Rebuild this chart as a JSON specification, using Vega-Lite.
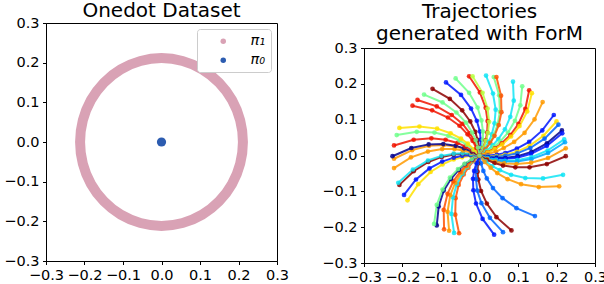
{
"$schema":"https://vega.github.io/schema/vega-lite/v6.json",
"padding":{"left":3,"top":0,"right":0,"bottom":0},
"spacing":31,
"config":{
"view":{"stroke":"black","strokeWidth":1},
"axis":{"domainColor":"black","tickColor":"black","labelColor":"black","labelFont":"DejaVu Sans","labelFontSize":14.5,"tickSize":3.5,"labelPadding":3.5,"grid":false,"labelOverlap":false,"labelFlush":false,"values":[-0.3,-0.2,-0.1,0,0.1,0.2,0.3],"format":".1f","domainWidth":1,"tickWidth":1},
"title":{"font":"DejaVu Sans","fontSize":20,"fontWeight":"normal","color":"black","offset":-6,"lineHeight":22,"frame":"group","anchor":"middle"}
},
"resolve":{"scale":{"color":"independent","x":"independent","y":"independent"},"legend":{"color":"independent"}},
"datasets":{
"ring":[{"i":0,"x":0.2115,"y":0},{"i":1,"x":0.2043,"y":0.0547},{"i":2,"x":0.1832,"y":0.1058},{"i":3,"x":0.1496,"y":0.1496},{"i":4,"x":0.1058,"y":0.1832},{"i":5,"x":0.0547,"y":0.2043},{"i":6,"x":0,"y":0.2115},{"i":7,"x":-0.0547,"y":0.2043},{"i":8,"x":-0.1058,"y":0.1832},{"i":9,"x":-0.1496,"y":0.1496},{"i":10,"x":-0.1832,"y":0.1058},{"i":11,"x":-0.2043,"y":0.0547},{"i":12,"x":-0.2115,"y":0},{"i":13,"x":-0.2043,"y":-0.0547},{"i":14,"x":-0.1832,"y":-0.1058},{"i":15,"x":-0.1496,"y":-0.1496},{"i":16,"x":-0.1058,"y":-0.1832},{"i":17,"x":-0.0547,"y":-0.2043},{"i":18,"x":0,"y":-0.2115},{"i":19,"x":0.0547,"y":-0.2043},{"i":20,"x":0.1058,"y":-0.1832},{"i":21,"x":0.1496,"y":-0.1496},{"i":22,"x":0.1832,"y":-0.1058},{"i":23,"x":0.2043,"y":-0.0547}],
"src":[{"x":0,"y":0,"s":"π₀"}],
"empty":[],
"traj":[
{"t":1,"i":0,"x":0,"y":0,"k":11},{"t":1,"i":1,"x":-0.001,"y":0.022,"k":11},{"t":1,"i":2,"x":-0.005,"y":0.044,"k":11},{"t":1,"i":3,"x":-0.011,"y":0.066,"k":11},{"t":1,"i":4,"x":-0.024,"y":0.095,"k":11},{"t":1,"i":5,"x":-0.045,"y":0.126,"k":11},{"t":1,"i":6,"x":-0.077,"y":0.158,"k":11},{"t":1,"i":7,"x":-0.122,"y":0.186,"k":11},
{"t":2,"i":0,"x":0,"y":0,"k":1},{"t":2,"i":1,"x":0.003,"y":0.022,"k":1},{"t":2,"i":2,"x":0.003,"y":0.044,"k":1},{"t":2,"i":3,"x":0.001,"y":0.067,"k":1},{"t":2,"i":4,"x":-0.007,"y":0.097,"k":1},{"t":2,"i":5,"x":-0.022,"y":0.131,"k":1},{"t":2,"i":6,"x":-0.048,"y":0.169,"k":1},{"t":2,"i":7,"x":-0.087,"y":0.204,"k":1},
{"t":3,"i":0,"x":0,"y":0,"k":5},{"t":3,"i":1,"x":0.006,"y":0.022,"k":5},{"t":3,"i":2,"x":0.009,"y":0.044,"k":5},{"t":3,"i":3,"x":0.009,"y":0.067,"k":5},{"t":3,"i":4,"x":0.005,"y":0.098,"k":5},{"t":3,"i":5,"x":-0.005,"y":0.134,"k":5},{"t":3,"i":6,"x":-0.027,"y":0.175,"k":5},{"t":3,"i":7,"x":-0.062,"y":0.215,"k":5},
{"t":4,"i":0,"x":0,"y":0,"k":10},{"t":4,"i":1,"x":0.009,"y":0.020,"k":10},{"t":4,"i":2,"x":0.016,"y":0.042,"k":10},{"t":4,"i":3,"x":0.020,"y":0.064,"k":10},{"t":4,"i":4,"x":0.021,"y":0.096,"k":10},{"t":4,"i":5,"x":0.016,"y":0.133,"k":10},{"t":4,"i":6,"x":0.001,"y":0.176,"k":10},{"t":4,"i":7,"x":-0.027,"y":0.221,"k":10},
{"t":5,"i":0,"x":0,"y":0,"k":6},{"t":5,"i":1,"x":0.010,"y":0.020,"k":6},{"t":5,"i":2,"x":0.017,"y":0.041,"k":6},{"t":5,"i":3,"x":0.022,"y":0.063,"k":6},{"t":5,"i":4,"x":0.025,"y":0.094,"k":6},{"t":5,"i":5,"x":0.021,"y":0.131,"k":6},{"t":5,"i":6,"x":0.008,"y":0.175,"k":6},{"t":5,"i":7,"x":-0.018,"y":0.221,"k":6},
{"t":6,"i":0,"x":0,"y":0,"k":4},{"t":6,"i":1,"x":0.013,"y":0.018,"k":4},{"t":6,"i":2,"x":0.024,"y":0.038,"k":4},{"t":6,"i":3,"x":0.032,"y":0.059,"k":4},{"t":6,"i":4,"x":0.039,"y":0.090,"k":4},{"t":6,"i":5,"x":0.042,"y":0.128,"k":4},{"t":6,"i":6,"x":0.035,"y":0.173,"k":4},{"t":6,"i":7,"x":0.017,"y":0.223,"k":4},
{"t":7,"i":0,"x":0,"y":0,"k":5},{"t":7,"i":1,"x":0.014,"y":0.017,"k":5},{"t":7,"i":2,"x":0.027,"y":0.035,"k":5},{"t":7,"i":3,"x":0.037,"y":0.056,"k":5},{"t":7,"i":4,"x":0.047,"y":0.086,"k":5},{"t":7,"i":5,"x":0.053,"y":0.122,"k":5},{"t":7,"i":6,"x":0.051,"y":0.168,"k":5},{"t":7,"i":7,"x":0.037,"y":0.219,"k":5},
{"t":8,"i":0,"x":0,"y":0,"k":9},{"t":8,"i":1,"x":0.015,"y":0.017,"k":9},{"t":8,"i":2,"x":0.028,"y":0.035,"k":9},{"t":8,"i":3,"x":0.039,"y":0.055,"k":9},{"t":8,"i":4,"x":0.050,"y":0.085,"k":9},{"t":8,"i":5,"x":0.057,"y":0.121,"k":9},{"t":8,"i":6,"x":0.056,"y":0.167,"k":9},{"t":8,"i":7,"x":0.044,"y":0.219,"k":9},
{"t":9,"i":0,"x":0,"y":0,"k":4},{"t":9,"i":1,"x":0.018,"y":0.013,"k":4},{"t":9,"i":2,"x":0.034,"y":0.028,"k":4},{"t":9,"i":3,"x":0.049,"y":0.046,"k":4},{"t":9,"i":4,"x":0.066,"y":0.073,"k":4},{"t":9,"i":5,"x":0.080,"y":0.108,"k":4},{"t":9,"i":6,"x":0.089,"y":0.153,"k":4},{"t":9,"i":7,"x":0.087,"y":0.206,"k":4},
{"t":10,"i":0,"x":0,"y":0,"k":5},{"t":10,"i":1,"x":0.019,"y":0.011,"k":5},{"t":10,"i":2,"x":0.037,"y":0.024,"k":5},{"t":10,"i":3,"x":0.054,"y":0.039,"k":5},{"t":10,"i":4,"x":0.074,"y":0.064,"k":5},{"t":10,"i":5,"x":0.092,"y":0.097,"k":5},{"t":10,"i":6,"x":0.106,"y":0.140,"k":5},{"t":10,"i":7,"x":0.111,"y":0.193,"k":5},
{"t":11,"i":0,"x":0,"y":0,"k":10},{"t":11,"i":1,"x":0.020,"y":0.009,"k":10},{"t":11,"i":2,"x":0.040,"y":0.020,"k":10},{"t":11,"i":3,"x":0.058,"y":0.034,"k":10},{"t":11,"i":4,"x":0.080,"y":0.057,"k":10},{"t":11,"i":5,"x":0.101,"y":0.088,"k":10},{"t":11,"i":6,"x":0.119,"y":0.130,"k":10},{"t":11,"i":7,"x":0.129,"y":0.182,"k":10},
{"t":12,"i":0,"x":0,"y":0,"k":7},{"t":12,"i":1,"x":0.021,"y":0.008,"k":7},{"t":12,"i":2,"x":0.040,"y":0.018,"k":7},{"t":12,"i":3,"x":0.059,"y":0.031,"k":7},{"t":12,"i":4,"x":0.082,"y":0.053,"k":7},{"t":12,"i":5,"x":0.104,"y":0.082,"k":7},{"t":12,"i":6,"x":0.124,"y":0.123,"k":7},{"t":12,"i":7,"x":0.136,"y":0.174,"k":7},
{"t":13,"i":0,"x":0,"y":0,"k":8},{"t":13,"i":1,"x":0.022,"y":0.004,"k":8},{"t":13,"i":2,"x":0.043,"y":0.011,"k":8},{"t":13,"i":3,"x":0.063,"y":0.021,"k":8},{"t":13,"i":4,"x":0.090,"y":0.038,"k":8},{"t":13,"i":5,"x":0.117,"y":0.063,"k":8},{"t":13,"i":6,"x":0.143,"y":0.101,"k":8},{"t":13,"i":7,"x":0.164,"y":0.149,"k":8},
{"t":14,"i":0,"x":0,"y":0,"k":1},{"t":14,"i":1,"x":0.022,"y":0.000,"k":1},{"t":14,"i":2,"x":0.045,"y":0.002,"k":1},{"t":14,"i":3,"x":0.067,"y":0.007,"k":1},{"t":14,"i":4,"x":0.097,"y":0.019,"k":1},{"t":14,"i":5,"x":0.129,"y":0.038,"k":1},{"t":14,"i":6,"x":0.163,"y":0.070,"k":1},{"t":14,"i":7,"x":0.193,"y":0.113,"k":1},
{"t":15,"i":0,"x":0,"y":0,"k":7},{"t":15,"i":1,"x":0.022,"y":-0.002,"k":7},{"t":15,"i":2,"x":0.044,"y":-0.002,"k":7},{"t":15,"i":3,"x":0.066,"y":0.002,"k":7},{"t":15,"i":4,"x":0.097,"y":0.010,"k":7},{"t":15,"i":5,"x":0.130,"y":0.027,"k":7},{"t":15,"i":6,"x":0.166,"y":0.055,"k":7},{"t":15,"i":7,"x":0.200,"y":0.095,"k":7},
{"t":16,"i":0,"x":0,"y":0,"k":2},{"t":16,"i":1,"x":0.022,"y":-0.003,"k":2},{"t":16,"i":2,"x":0.044,"y":-0.004,"k":2},{"t":16,"i":3,"x":0.067,"y":-0.001,"k":2},{"t":16,"i":4,"x":0.098,"y":0.006,"k":2},{"t":16,"i":5,"x":0.132,"y":0.021,"k":2},{"t":16,"i":6,"x":0.169,"y":0.047,"k":2},{"t":16,"i":7,"x":0.205,"y":0.086,"k":2},
{"t":17,"i":0,"x":0,"y":0,"k":0},{"t":17,"i":1,"x":0.022,"y":-0.005,"k":0},{"t":17,"i":2,"x":0.044,"y":-0.007,"k":0},{"t":17,"i":3,"x":0.067,"y":-0.007,"k":0},{"t":17,"i":4,"x":0.099,"y":-0.002,"k":0},{"t":17,"i":5,"x":0.135,"y":0.010,"k":0},{"t":17,"i":6,"x":0.175,"y":0.034,"k":0},{"t":17,"i":7,"x":0.214,"y":0.070,"k":0},
{"t":18,"i":0,"x":0,"y":0,"k":1},{"t":18,"i":1,"x":0.022,"y":-0.006,"k":1},{"t":18,"i":2,"x":0.044,"y":-0.009,"k":1},{"t":18,"i":3,"x":0.067,"y":-0.009,"k":1},{"t":18,"i":4,"x":0.098,"y":-0.006,"k":1},{"t":18,"i":5,"x":0.134,"y":0.005,"k":1},{"t":18,"i":6,"x":0.175,"y":0.027,"k":1},{"t":18,"i":7,"x":0.215,"y":0.062,"k":1},
{"t":19,"i":0,"x":0,"y":0,"k":4},{"t":19,"i":1,"x":0.021,"y":-0.007,"k":4},{"t":19,"i":2,"x":0.043,"y":-0.012,"k":4},{"t":19,"i":3,"x":0.066,"y":-0.015,"k":4},{"t":19,"i":4,"x":0.098,"y":-0.013,"k":4},{"t":19,"i":5,"x":0.135,"y":-0.005,"k":4},{"t":19,"i":6,"x":0.177,"y":0.014,"k":4},{"t":19,"i":7,"x":0.220,"y":0.045,"k":4},
{"t":20,"i":0,"x":0,"y":0,"k":3},{"t":20,"i":1,"x":0.021,"y":-0.008,"k":3},{"t":20,"i":2,"x":0.043,"y":-0.014,"k":3},{"t":20,"i":3,"x":0.065,"y":-0.017,"k":3},{"t":20,"i":4,"x":0.098,"y":-0.017,"k":3},{"t":20,"i":5,"x":0.135,"y":-0.010,"k":3},{"t":20,"i":6,"x":0.178,"y":0.007,"k":3},{"t":20,"i":7,"x":0.222,"y":0.037,"k":3},
{"t":21,"i":0,"x":0,"y":0,"k":8},{"t":21,"i":1,"x":0.020,"y":-0.010,"k":8},{"t":21,"i":2,"x":0.041,"y":-0.017,"k":8},{"t":21,"i":3,"x":0.064,"y":-0.022,"k":8},{"t":21,"i":4,"x":0.096,"y":-0.024,"k":8},{"t":21,"i":5,"x":0.134,"y":-0.020,"k":8},{"t":21,"i":6,"x":0.178,"y":-0.007,"k":8},{"t":21,"i":7,"x":0.224,"y":0.020,"k":8},
{"t":22,"i":0,"x":0,"y":0,"k":11},{"t":22,"i":1,"x":0.019,"y":-0.012,"k":11},{"t":22,"i":2,"x":0.039,"y":-0.021,"k":11},{"t":22,"i":3,"x":0.061,"y":-0.028,"k":11},{"t":22,"i":4,"x":0.093,"y":-0.033,"k":11},{"t":22,"i":5,"x":0.130,"y":-0.033,"k":11},{"t":22,"i":6,"x":0.175,"y":-0.024,"k":11},{"t":22,"i":7,"x":0.224,"y":-0.002,"k":11},
{"t":23,"i":0,"x":0,"y":0,"k":4},{"t":23,"i":1,"x":0.016,"y":-0.016,"k":4},{"t":23,"i":2,"x":0.033,"y":-0.030,"k":4},{"t":23,"i":3,"x":0.053,"y":-0.041,"k":4},{"t":23,"i":4,"x":0.082,"y":-0.054,"k":4},{"t":23,"i":5,"x":0.119,"y":-0.063,"k":4},{"t":23,"i":6,"x":0.165,"y":-0.064,"k":4},{"t":23,"i":7,"x":0.217,"y":-0.054,"k":4},
{"t":24,"i":0,"x":0,"y":0,"k":8},{"t":24,"i":1,"x":0.013,"y":-0.018,"k":8},{"t":24,"i":2,"x":0.029,"y":-0.034,"k":8},{"t":24,"i":3,"x":0.046,"y":-0.049,"k":8},{"t":24,"i":4,"x":0.073,"y":-0.066,"k":8},{"t":24,"i":5,"x":0.108,"y":-0.080,"k":8},{"t":24,"i":6,"x":0.154,"y":-0.088,"k":8},{"t":24,"i":7,"x":0.207,"y":-0.086,"k":8},
{"t":25,"i":0,"x":0,"y":0,"k":2},{"t":25,"i":1,"x":0.004,"y":-0.022,"k":2},{"t":25,"i":2,"x":0.010,"y":-0.043,"k":2},{"t":25,"i":3,"x":0.019,"y":-0.064,"k":2},{"t":25,"i":4,"x":0.035,"y":-0.091,"k":2},{"t":25,"i":5,"x":0.060,"y":-0.119,"k":2},{"t":25,"i":6,"x":0.096,"y":-0.147,"k":2},{"t":25,"i":7,"x":0.144,"y":-0.169,"k":2},
{"t":26,"i":0,"x":0,"y":0,"k":11},{"t":26,"i":1,"x":-0.004,"y":-0.022,"k":11},{"t":26,"i":2,"x":-0.005,"y":-0.045,"k":11},{"t":26,"i":3,"x":-0.003,"y":-0.067,"k":11},{"t":26,"i":4,"x":0.004,"y":-0.099,"k":11},{"t":26,"i":5,"x":0.019,"y":-0.134,"k":11},{"t":26,"i":6,"x":0.044,"y":-0.172,"k":11},{"t":26,"i":7,"x":0.083,"y":-0.209,"k":11},
{"t":27,"i":0,"x":0,"y":0,"k":2},{"t":27,"i":1,"x":-0.006,"y":-0.022,"k":2},{"t":27,"i":2,"x":-0.009,"y":-0.044,"k":2},{"t":27,"i":3,"x":-0.009,"y":-0.066,"k":2},{"t":27,"i":4,"x":-0.006,"y":-0.098,"k":2},{"t":27,"i":5,"x":0.005,"y":-0.133,"k":2},{"t":27,"i":6,"x":0.027,"y":-0.174,"k":2},{"t":27,"i":7,"x":0.061,"y":-0.214,"k":2},
{"t":28,"i":0,"x":0,"y":0,"k":1},{"t":28,"i":1,"x":-0.008,"y":-0.021,"k":1},{"t":28,"i":2,"x":-0.014,"y":-0.043,"k":1},{"t":28,"i":3,"x":-0.017,"y":-0.065,"k":1},{"t":28,"i":4,"x":-0.016,"y":-0.097,"k":1},{"t":28,"i":5,"x":-0.009,"y":-0.134,"k":1},{"t":28,"i":6,"x":0.008,"y":-0.177,"k":1},{"t":28,"i":7,"x":0.038,"y":-0.221,"k":1},
{"t":29,"i":0,"x":0,"y":0,"k":9},{"t":29,"i":1,"x":-0.016,"y":-0.016,"k":9},{"t":29,"i":2,"x":-0.029,"y":-0.034,"k":9},{"t":29,"i":3,"x":-0.041,"y":-0.053,"k":9},{"t":29,"i":4,"x":-0.054,"y":-0.082,"k":9},{"t":29,"i":5,"x":-0.062,"y":-0.119,"k":9},{"t":29,"i":6,"x":-0.063,"y":-0.165,"k":9},{"t":29,"i":7,"x":-0.053,"y":-0.217,"k":9},
{"t":30,"i":0,"x":0,"y":0,"k":4},{"t":30,"i":1,"x":-0.017,"y":-0.015,"k":4},{"t":30,"i":2,"x":-0.032,"y":-0.032,"k":4},{"t":30,"i":3,"x":-0.044,"y":-0.051,"k":4},{"t":30,"i":4,"x":-0.059,"y":-0.080,"k":4},{"t":30,"i":5,"x":-0.069,"y":-0.117,"k":4},{"t":30,"i":6,"x":-0.073,"y":-0.163,"k":4},{"t":30,"i":7,"x":-0.066,"y":-0.216,"k":4},
{"t":31,"i":0,"x":0,"y":0,"k":8},{"t":31,"i":1,"x":-0.018,"y":-0.014,"k":8},{"t":31,"i":2,"x":-0.033,"y":-0.030,"k":8},{"t":31,"i":3,"x":-0.047,"y":-0.048,"k":8},{"t":31,"i":4,"x":-0.063,"y":-0.076,"k":8},{"t":31,"i":5,"x":-0.076,"y":-0.111,"k":8},{"t":31,"i":6,"x":-0.083,"y":-0.157,"k":8},{"t":31,"i":7,"x":-0.079,"y":-0.210,"k":8},
{"t":32,"i":0,"x":0,"y":0,"k":9},{"t":32,"i":1,"x":-0.018,"y":-0.013,"k":9},{"t":32,"i":2,"x":-0.035,"y":-0.028,"k":9},{"t":32,"i":3,"x":-0.050,"y":-0.045,"k":9},{"t":32,"i":4,"x":-0.068,"y":-0.072,"k":9},{"t":32,"i":5,"x":-0.083,"y":-0.107,"k":9},{"t":32,"i":6,"x":-0.093,"y":-0.152,"k":9},{"t":32,"i":7,"x":-0.092,"y":-0.206,"k":9},
{"t":33,"i":0,"x":0,"y":0,"k":0},{"t":33,"i":1,"x":-0.019,"y":-0.011,"k":0},{"t":33,"i":2,"x":-0.038,"y":-0.024,"k":0},{"t":33,"i":3,"x":-0.054,"y":-0.040,"k":0},{"t":33,"i":4,"x":-0.074,"y":-0.065,"k":0},{"t":33,"i":5,"x":-0.093,"y":-0.098,"k":0},{"t":33,"i":6,"x":-0.106,"y":-0.142,"k":0},{"t":33,"i":7,"x":-0.111,"y":-0.195,"k":0},
{"t":34,"i":0,"x":0,"y":0,"k":5},{"t":34,"i":1,"x":-0.020,"y":-0.010,"k":5},{"t":34,"i":2,"x":-0.039,"y":-0.023,"k":5},{"t":34,"i":3,"x":-0.056,"y":-0.038,"k":5},{"t":34,"i":4,"x":-0.077,"y":-0.062,"k":5},{"t":34,"i":5,"x":-0.096,"y":-0.095,"k":5},{"t":34,"i":6,"x":-0.111,"y":-0.138,"k":5},{"t":34,"i":7,"x":-0.118,"y":-0.191,"k":5},
{"t":35,"i":0,"x":0,"y":0,"k":7},{"t":35,"i":1,"x":-0.022,"y":-0.001,"k":7},{"t":35,"i":2,"x":-0.045,"y":-0.005,"k":7},{"t":35,"i":3,"x":-0.067,"y":-0.011,"k":7},{"t":35,"i":4,"x":-0.096,"y":-0.025,"k":7},{"t":35,"i":5,"x":-0.127,"y":-0.046,"k":7},{"t":35,"i":6,"x":-0.159,"y":-0.080,"k":7},{"t":35,"i":7,"x":-0.187,"y":-0.125,"k":7},
{"t":36,"i":0,"x":0,"y":0,"k":1},{"t":36,"i":1,"x":-0.023,"y":0.001,"k":1},{"t":36,"i":2,"x":-0.045,"y":-0.001,"k":1},{"t":36,"i":3,"x":-0.067,"y":-0.006,"k":1},{"t":36,"i":4,"x":-0.097,"y":-0.017,"k":1},{"t":36,"i":5,"x":-0.130,"y":-0.036,"k":1},{"t":36,"i":6,"x":-0.165,"y":-0.067,"k":1},{"t":36,"i":7,"x":-0.196,"y":-0.110,"k":1},
{"t":37,"i":0,"x":0,"y":0,"k":11},{"t":37,"i":1,"x":-0.022,"y":0.004,"k":11},{"t":37,"i":2,"x":-0.044,"y":0.005,"k":11},{"t":37,"i":3,"x":-0.067,"y":0.003,"k":11},{"t":37,"i":4,"x":-0.098,"y":-0.004,"k":11},{"t":37,"i":5,"x":-0.133,"y":-0.018,"k":11},{"t":37,"i":6,"x":-0.171,"y":-0.044,"k":11},{"t":37,"i":7,"x":-0.208,"y":-0.082,"k":11},
{"t":38,"i":0,"x":0,"y":0,"k":4},{"t":38,"i":1,"x":-0.022,"y":0.004,"k":4},{"t":38,"i":2,"x":-0.044,"y":0.006,"k":4},{"t":38,"i":3,"x":-0.067,"y":0.005,"k":4},{"t":38,"i":4,"x":-0.099,"y":-0.001,"k":4},{"t":38,"i":5,"x":-0.134,"y":-0.014,"k":4},{"t":38,"i":6,"x":-0.173,"y":-0.039,"k":4},{"t":38,"i":7,"x":-0.211,"y":-0.076,"k":4},
{"t":39,"i":0,"x":0,"y":0,"k":8},{"t":39,"i":1,"x":-0.021,"y":0.008,"k":8},{"t":39,"i":2,"x":-0.043,"y":0.014,"k":8},{"t":39,"i":3,"x":-0.065,"y":0.018,"k":8},{"t":39,"i":4,"x":-0.097,"y":0.018,"k":8},{"t":39,"i":5,"x":-0.134,"y":0.011,"k":8},{"t":39,"i":6,"x":-0.178,"y":-0.005,"k":8},{"t":39,"i":7,"x":-0.222,"y":-0.035,"k":8},
{"t":40,"i":0,"x":0,"y":0,"k":8},{"t":40,"i":1,"x":-0.020,"y":0.011,"k":8},{"t":40,"i":2,"x":-0.040,"y":0.019,"k":8},{"t":40,"i":3,"x":-0.062,"y":0.025,"k":8},{"t":40,"i":4,"x":-0.093,"y":0.029,"k":8},{"t":40,"i":5,"x":-0.131,"y":0.027,"k":8},{"t":40,"i":6,"x":-0.175,"y":0.015,"k":8},{"t":40,"i":7,"x":-0.222,"y":-0.009,"k":8},
{"t":41,"i":0,"x":0,"y":0,"k":0},{"t":41,"i":1,"x":-0.020,"y":0.011,"k":0},{"t":41,"i":2,"x":-0.040,"y":0.020,"k":0},{"t":41,"i":3,"x":-0.062,"y":0.027,"k":0},{"t":41,"i":4,"x":-0.094,"y":0.032,"k":0},{"t":41,"i":5,"x":-0.132,"y":0.031,"k":0},{"t":41,"i":6,"x":-0.177,"y":0.021,"k":0},{"t":41,"i":7,"x":-0.226,"y":-0.002,"k":0},
{"t":42,"i":0,"x":0,"y":0,"k":10},{"t":42,"i":1,"x":-0.018,"y":0.014,"k":10},{"t":42,"i":2,"x":-0.037,"y":0.025,"k":10},{"t":42,"i":3,"x":-0.057,"y":0.035,"k":10},{"t":42,"i":4,"x":-0.088,"y":0.044,"k":10},{"t":42,"i":5,"x":-0.125,"y":0.048,"k":10},{"t":42,"i":6,"x":-0.171,"y":0.044,"k":10},{"t":42,"i":7,"x":-0.222,"y":0.028,"k":10},
{"t":43,"i":0,"x":0,"y":0,"k":5},{"t":43,"i":1,"x":-0.016,"y":0.016,"k":5},{"t":43,"i":2,"x":-0.033,"y":0.030,"k":5},{"t":43,"i":3,"x":-0.052,"y":0.042,"k":5},{"t":43,"i":4,"x":-0.081,"y":0.055,"k":5},{"t":43,"i":5,"x":-0.117,"y":0.064,"k":5},{"t":43,"i":6,"x":-0.163,"y":0.066,"k":5},{"t":43,"i":7,"x":-0.215,"y":0.057,"k":5},
{"t":44,"i":0,"x":0,"y":0,"k":7},{"t":44,"i":1,"x":-0.014,"y":0.017,"k":7},{"t":44,"i":2,"x":-0.030,"y":0.033,"k":7},{"t":44,"i":3,"x":-0.048,"y":0.047,"k":7},{"t":44,"i":4,"x":-0.075,"y":0.062,"k":7},{"t":44,"i":5,"x":-0.110,"y":0.075,"k":7},{"t":44,"i":6,"x":-0.156,"y":0.081,"k":7},{"t":44,"i":7,"x":-0.208,"y":0.077,"k":7},
{"t":45,"i":0,"x":0,"y":0,"k":10},{"t":45,"i":1,"x":-0.008,"y":0.021,"k":10},{"t":45,"i":2,"x":-0.018,"y":0.041,"k":10},{"t":45,"i":3,"x":-0.031,"y":0.059,"k":10},{"t":45,"i":4,"x":-0.052,"y":0.083,"k":10},{"t":45,"i":5,"x":-0.082,"y":0.106,"k":10},{"t":45,"i":6,"x":-0.123,"y":0.126,"k":10},{"t":45,"i":7,"x":-0.174,"y":0.139,"k":10},
{"t":46,"i":0,"x":0,"y":0,"k":10},{"t":46,"i":1,"x":-0.006,"y":0.022,"k":10},{"t":46,"i":2,"x":-0.014,"y":0.042,"k":10},{"t":46,"i":3,"x":-0.025,"y":0.062,"k":10},{"t":46,"i":4,"x":-0.044,"y":0.088,"k":10},{"t":46,"i":5,"x":-0.072,"y":0.113,"k":10},{"t":46,"i":6,"x":-0.111,"y":0.137,"k":10},{"t":46,"i":7,"x":-0.161,"y":0.155,"k":10},
{"t":47,"i":0,"x":0,"y":0,"k":5},{"t":47,"i":1,"x":-0.004,"y":0.022,"k":5},{"t":47,"i":2,"x":-0.010,"y":0.043,"k":5},{"t":47,"i":3,"x":-0.019,"y":0.064,"k":5},{"t":47,"i":4,"x":-0.035,"y":0.092,"k":5},{"t":47,"i":5,"x":-0.060,"y":0.120,"k":5},{"t":47,"i":6,"x":-0.096,"y":0.148,"k":5},{"t":47,"i":7,"x":-0.144,"y":0.170,"k":5}
]
},
"hconcat":[
{
"title":{"text":"Onedot Dataset","offset":-6,"fontSize":20,"font":"DejaVu Sans","fontWeight":"normal","lineHeight":22},
"width":231,"height":238,
"layer":[
{"data":{"name":"ring"},
"mark":{"type":"line","interpolate":"cardinal-closed","strokeWidth":10,"color":"#d9a2b5"},
"encoding":{
"x":{"field":"x","type":"quantitative","scale":{"domain":[-0.3,0.3],"nice":false,"zero":false},"axis":{"title":null}},
"y":{"field":"y","type":"quantitative","scale":{"domain":[-0.3,0.3],"nice":false,"zero":false},"axis":{"title":null}},
"order":{"field":"i","type":"quantitative"}}},
{"data":{"name":"src"},
"mark":{"type":"circle","size":85,"opacity":1},
"encoding":{
"x":{"field":"x","type":"quantitative"},
"y":{"field":"y","type":"quantitative"},
"color":{"field":"s","type":"nominal","scale":{"domain":["π₁","π₀"],"range":["#d9a2b5","#2c5cb0"]},
"legend":{"title":null,"orient":"top-right","offset":6,"padding":5,"fillColor":"white","strokeColor":"#cccccc","cornerRadius":3,"symbolType":"circle","symbolSize":30,"symbolOffset":14,"labelOffset":20,"labelFontSize":14.5,"labelFont":"DejaVu Sans","labelFontStyle":"italic","labelColor":"black","rowPadding":4,"symbolOpacity":1}}}}
]
},
{"vconcat":[
{
"title":{"text":["Trajectories","generated with ForM"],"offset":-21,"fontSize":20,"font":"DejaVu Sans","fontWeight":"normal","lineHeight":22},
"width":231,"height":10,
"view":{"stroke":null},
"data":{"name":"empty"},
"mark":{"type":"point"},
"encoding":{}
},
{
"width":231,"height":215,
"data":{"name":"traj"},
"encoding":{
"x":{"field":"x","type":"quantitative","scale":{"domain":[-0.3,0.3],"nice":false,"zero":false},"axis":{"title":null}},
"y":{"field":"y","type":"quantitative","scale":{"domain":[-0.3,0.3],"nice":false,"zero":false},"axis":{"title":null}},
"color":{"field":"k","type":"ordinal","scale":{"domain":[0,1,2,3,4,5,6,7,8,9,10,11],"range":["#00008f","#0018ff","#0064ff","#00a8ff","#10e4f4","#70ff8c","#b8ff40","#ffe000","#ff9a00","#ff5200","#f01400","#8c0000"]},"legend":null}
},
"layer":[
{"mark":{"type":"line","strokeWidth":2,"opacity":0.85},
"encoding":{"detail":{"field":"t","type":"nominal"},"order":{"field":"i","type":"quantitative"}}},
{"mark":{"type":"circle","size":22,"opacity":0.85}}
]
}
],"spacing":-5,"resolve":{"scale":{"color":"independent"},"legend":{"color":"independent"}}}
]
}
